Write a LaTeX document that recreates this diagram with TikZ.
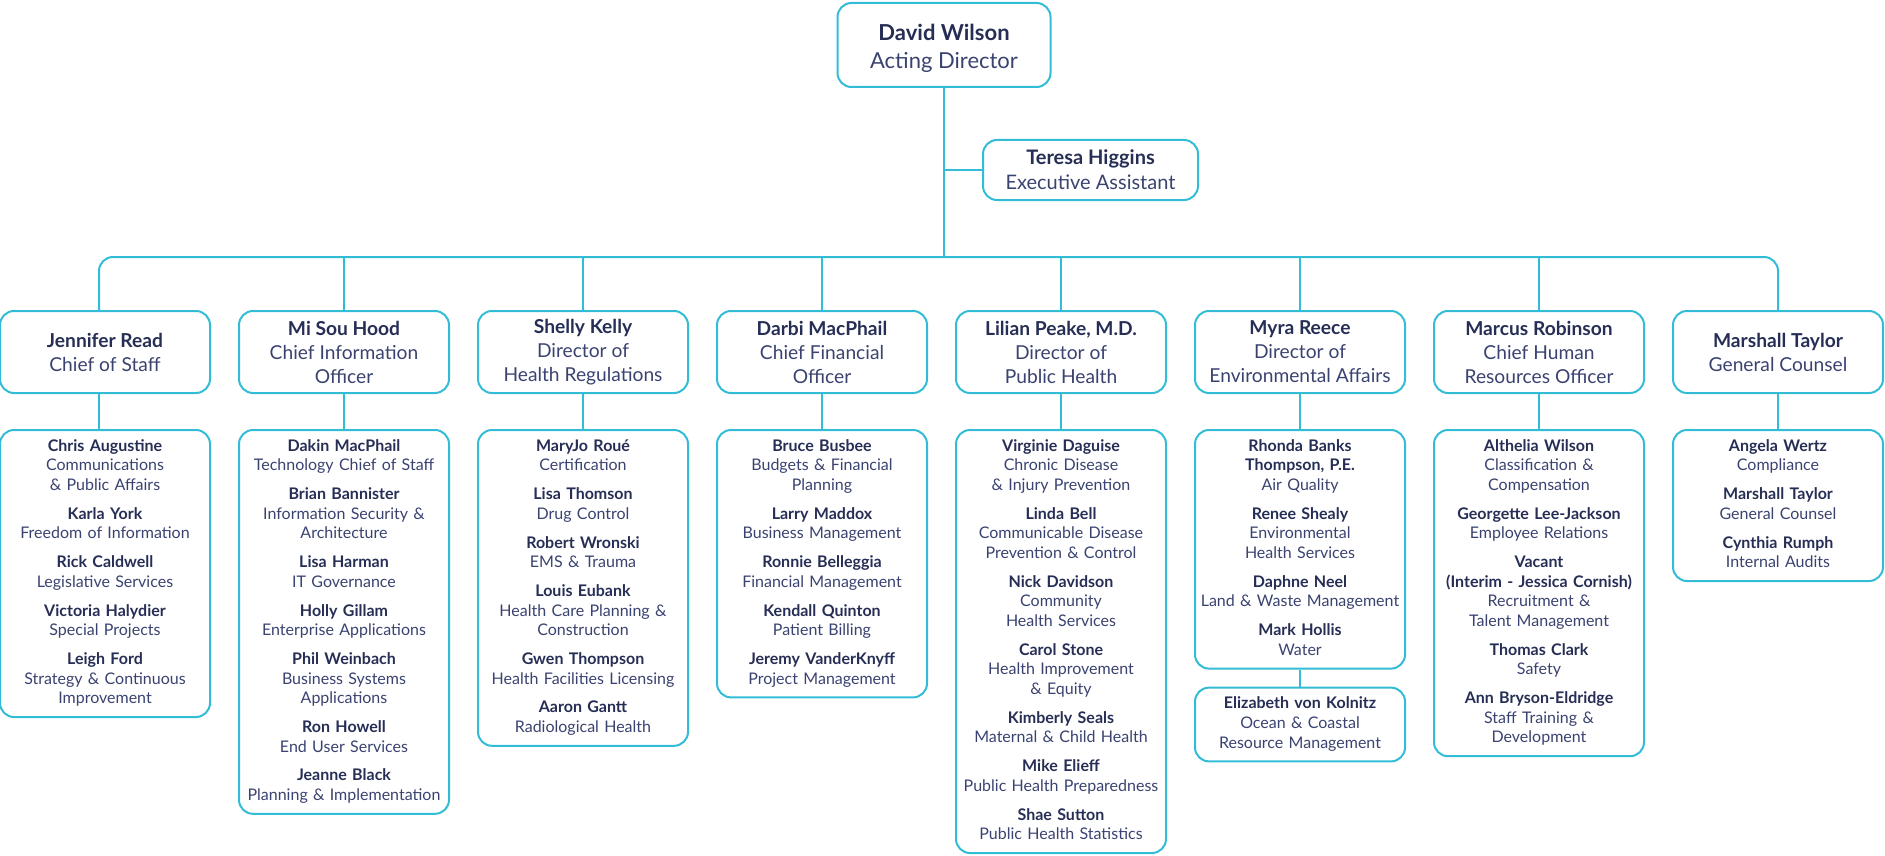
\documentclass[tikz,border=0pt]{standalone}
\usepackage{fontspec}
\setmainfont{Lato}
\usetikzlibrary{positioning}

\definecolor{lineblue}{HTML}{33BCD6}
\definecolor{navy}{HTML}{262E55}
\definecolor{titleblue}{HTML}{3A4270}

% bold name, then the office
\newcommand\chief[2]{{\bfseries\color{navy}#1}\\#2}
% same, with struts, for the team lists
\newcommand\who[2]{\strut\chief{#1}{#2}\strut}
\newcommand\nxt{\\[4.6pt]}

\begin{document}
\begin{tikzpicture}[
    box/.style={draw=lineblue, line width=1pt, rounded corners=7pt, align=center, text=titleblue},
    boss/.style={box, minimum width=106.5pt, minimum height=42pt, font=\fontsize{11}{13.8}\selectfont},
    aide/.style={box, minimum width=107.5pt, minimum height=30pt, font=\fontsize{10}{12.6}\selectfont},
    head/.style={box, minimum width=105pt, minimum height=41pt, inner xsep=2pt, font=\fontsize{9.6}{12}\selectfont},
    team/.style={box, text width=101pt, inner xsep=2pt, inner ysep=3.75pt, font=\fontsize{8}{9.8}\selectfont},
    link/.style={draw=lineblue, line width=1pt},
    node distance=17.5pt
  ]
  \useasboundingbox (0,0) rectangle (942.5pt,-428pt);

  \node[boss] (director) at (472pt,-22.5pt) {\rule{0pt}{11.5pt}\chief{David Wilson}{Acting Director}};
  \node[aide] (assistant) at (545.25pt,-85pt) {\chief{Teresa Higgins}{Executive Assistant}};
  \coordinate (bus) at (472pt,-128.5pt);

  % second row
  \node[head, anchor=west] (staff) at (-0.5pt,-176pt) {\chief{Jennifer Read}{Chief of Staff}};
  \node[head, right=13.5pt of staff] (cio) {\chief{Mi Sou Hood}{Chief Information\\Officer}};
  \node[head, right=13.5pt of cio] (regs) {\chief{Shelly Kelly}{Director of\\Health Regulations}};
  \node[head, right=13.5pt of regs] (cfo) {\chief{Darbi MacPhail}{Chief Financial\\Officer}};
  \node[head, right=13.5pt of cfo] (health) {\chief{Lilian Peake, M.D.}{Director of\\Public Health}};
  \node[head, right=13.5pt of health] (env) {\chief{Myra Reece}{Director of\\Environmental Affairs}};
  \node[head, right=13.5pt of env] (hr) {\chief{Marcus Robinson}{Chief Human\\Resources Officer}};
  \node[head, right=13.5pt of hr] (counsel) {\chief{Marshall Taylor}{General Counsel}};

  % teams
  \node[team, below=of staff] (staff-team) {%
    \who{Chris Augustine}{Communications\\\& Public Affairs}\nxt
    \who{Karla York}{Freedom of Information}\nxt
    \who{Rick Caldwell}{Legislative Services}\nxt
    \who{Victoria Halydier}{Special Projects}\nxt
    \who{Leigh Ford}{Strategy \& Continuous\\Improvement}};
  \node[team, below=of cio] (cio-team) {%
    \who{Dakin MacPhail}{Technology Chief of Staff}\nxt
    \who{Brian Bannister}{Information Security \&\\Architecture}\nxt
    \who{Lisa Harman}{IT Governance}\nxt
    \who{Holly Gillam}{Enterprise Applications}\nxt
    \who{Phil Weinbach}{Business Systems\\Applications}\nxt
    \who{Ron Howell}{End User Services}\nxt
    \who{Jeanne Black}{Planning \& Implementation}};
  \node[team, below=of regs] (regs-team) {%
    \who{MaryJo Roué}{Certification}\nxt
    \who{Lisa Thomson}{Drug Control}\nxt
    \who{Robert Wronski}{EMS \& Trauma}\nxt
    \who{Louis Eubank}{Health Care Planning \&\\Construction}\nxt
    \who{Gwen Thompson}{Health Facilities Licensing}\nxt
    \who{Aaron Gantt}{Radiological Health}};
  \node[team, below=of cfo] (cfo-team) {%
    \who{Bruce Busbee}{Budgets \& Financial\\Planning}\nxt
    \who{Larry Maddox}{Business Management}\nxt
    \who{Ronnie Belleggia}{Financial Management}\nxt
    \who{Kendall Quinton}{Patient Billing}\nxt
    \who{Jeremy VanderKnyff}{Project Management}};
  \node[team, below=of health] (health-team) {%
    \who{Virginie Daguise}{Chronic Disease\\\& Injury Prevention}\nxt
    \who{Linda Bell}{Communicable Disease\\Prevention \& Control}\nxt
    \who{Nick Davidson}{Community\\Health Services}\nxt
    \who{Carol Stone}{Health Improvement\\\& Equity}\nxt
    \who{Kimberly Seals}{Maternal \& Child Health}\nxt
    \who{Mike Elieff}{Public Health Preparedness}\nxt
    \who{Shae Sutton}{Public Health Statistics}};
  \node[team, below=of env] (env-team) {%
    \who{Rhonda Banks\\Thompson, P.E.}{Air Quality}\nxt
    \who{Renee Shealy}{Environmental\\Health Services}\nxt
    \who{Daphne Neel}{Land \& Waste Management}\nxt
    \who{Mark Hollis}{Water}};
  \node[team, below=8.5pt of env-team] (coast) {%
    \who{Elizabeth von Kolnitz}{Ocean \& Coastal\\Resource Management}};
  \node[team, below=of hr] (hr-team) {%
    \who{Althelia Wilson}{Classification \&\\Compensation}\nxt
    \who{Georgette Lee-Jackson}{Employee Relations}\nxt
    \who{Vacant\\(Interim - Jessica Cornish)}{Recruitment \&\\Talent Management}\nxt
    \who{Thomas Clark}{Safety}\nxt
    \who{Ann Bryson-Eldridge}{Staff Training \&\\Development}};
  \node[team, below=of counsel] (counsel-team) {%
    \who{Angela Wertz}{Compliance}\nxt
    \who{Marshall Taylor}{General Counsel}\nxt
    \who{Cynthia Rumph}{Internal Audits}};

  % lines
  \draw[link] (director) -- (director |- bus);
  \draw[link] (director |- assistant.west) -- (assistant.west);
  \draw[link, rounded corners=7pt] ([xshift=-3pt]staff.north) |- (bus) -| (counsel);
  \draw[link] ([xshift=-3pt]staff.south) -- ([xshift=-3pt]staff-team.north);
  \foreach \n in {cio,regs,cfo,health,env,hr}
    \draw[link] (\n) -- (\n |- bus);
  \foreach \n in {cio,regs,cfo,health,env,hr,counsel}
    \draw[link] (\n) -- (\n-team);
  \draw[link] (env-team) -- (coast);
\end{tikzpicture}
\end{document}
